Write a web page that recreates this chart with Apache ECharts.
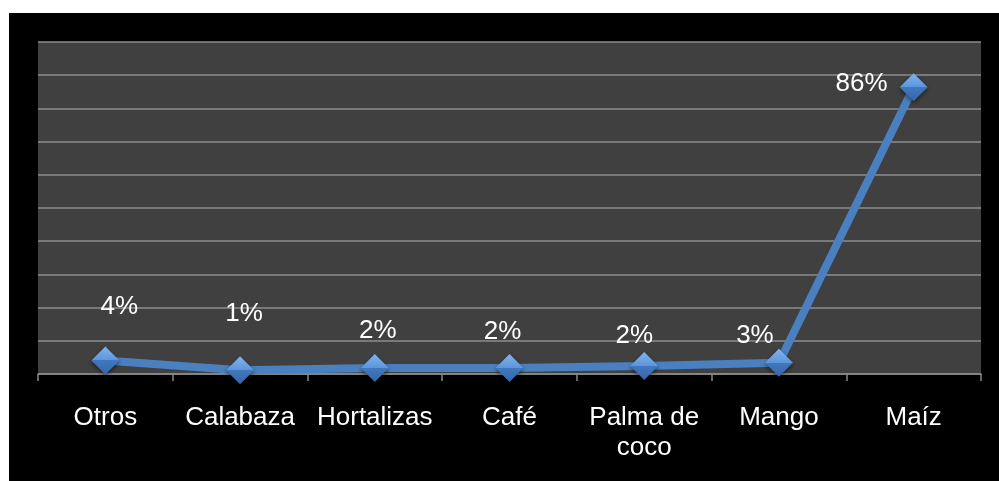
<!DOCTYPE html>
<html>
<head>
<meta charset="utf-8">
<script src="https://cdn.jsdelivr.net/npm/echarts@6/dist/echarts.min.js"></script>
<style>
  html, body { margin: 0; padding: 0; background: #ffffff; }
  #chart { position: absolute; left: 9px; top: 13px; width: 990px; height: 468px; }
</style>
</head>
<body>
<div id="chart"></div>
<script>
// Data
const categories = ['Otros', 'Calabaza', 'Hortalizas', 'Café', 'Palma de\ncoco', 'Mango', 'Maíz'];
const values = [4.1, 1.1, 1.8, 1.8, 2.4, 3.4, 86.4];
const yTicks = [0, 10, 20, 30, 40, 50, 60, 70, 80, 90, 100];

// Layout: label offsets (px) relative to each point
const labelOffsets = [[14, -54], [4, -57], [3, -37], [-7, -36], [-10, -30], [-24, -27], [-52, -3]];

const FONT = "'Liberation Sans', Arial, sans-serif";

const chart = echarts.init(document.getElementById('chart'), null, { renderer: 'canvas' });

const diamondColor = new echarts.graphic.LinearGradient(0, 0, 0, 1, [
  { offset: 0, color: '#80b4ee' },
  { offset: 0.5, color: '#5c95da' },
  { offset: 0.5, color: '#4078bf' },
  { offset: 1, color: '#3666a8' }
]);

const seriesData = values.map((v, i) => ({
  value: v,
  label: { offset: labelOffsets[i] }
}));

chart.setOption({
  backgroundColor: '#000000',
  animation: false,
  grid: {
    left: 29, right: 18, top: 29, bottom: 107,
    show: true, backgroundColor: '#404040', borderWidth: 0
  },
  xAxis: {
    type: 'category',
    data: categories,
    boundaryGap: true,
    axisLine: { show: true, lineStyle: { color: '#8a8a8a', width: 1.5 } },
    axisTick: { show: true, length: 7, lineStyle: { color: '#8a8a8a', width: 1.5 } },
    axisLabel: {
      color: '#ffffff', fontSize: 26, fontFamily: FONT, margin: 29,
      lineHeight: 30, interval: 0
    },
    splitLine: { show: false }
  },
  yAxis: {
    type: 'value',
    min: yTicks[0], max: yTicks[yTicks.length - 1], interval: 10,
    axisLine: { show: false },
    axisTick: { show: false },
    axisLabel: { show: false },
    splitLine: { show: true, lineStyle: { color: '#8c8c8c', width: 1.5 } }
  },
  series: [{
    type: 'line',
    data: seriesData,
    symbol: 'diamond',
    symbolSize: 28,
    lineStyle: { color: '#4a7fc0', width: 8 },
    itemStyle: {
      color: diamondColor,
      borderWidth: 0,
      shadowColor: 'rgba(0,0,0,0.5)', shadowBlur: 4, shadowOffsetY: 2
    },
    label: {
      show: true,
      position: 'inside',
      align: 'center',
      verticalAlign: 'middle',
      color: '#ffffff',
      fontSize: 26,
      fontFamily: FONT,
      formatter: p => Math.round(p.value) + '%'
    },
    z: 3
  }]
});
</script>
</body>
</html>
